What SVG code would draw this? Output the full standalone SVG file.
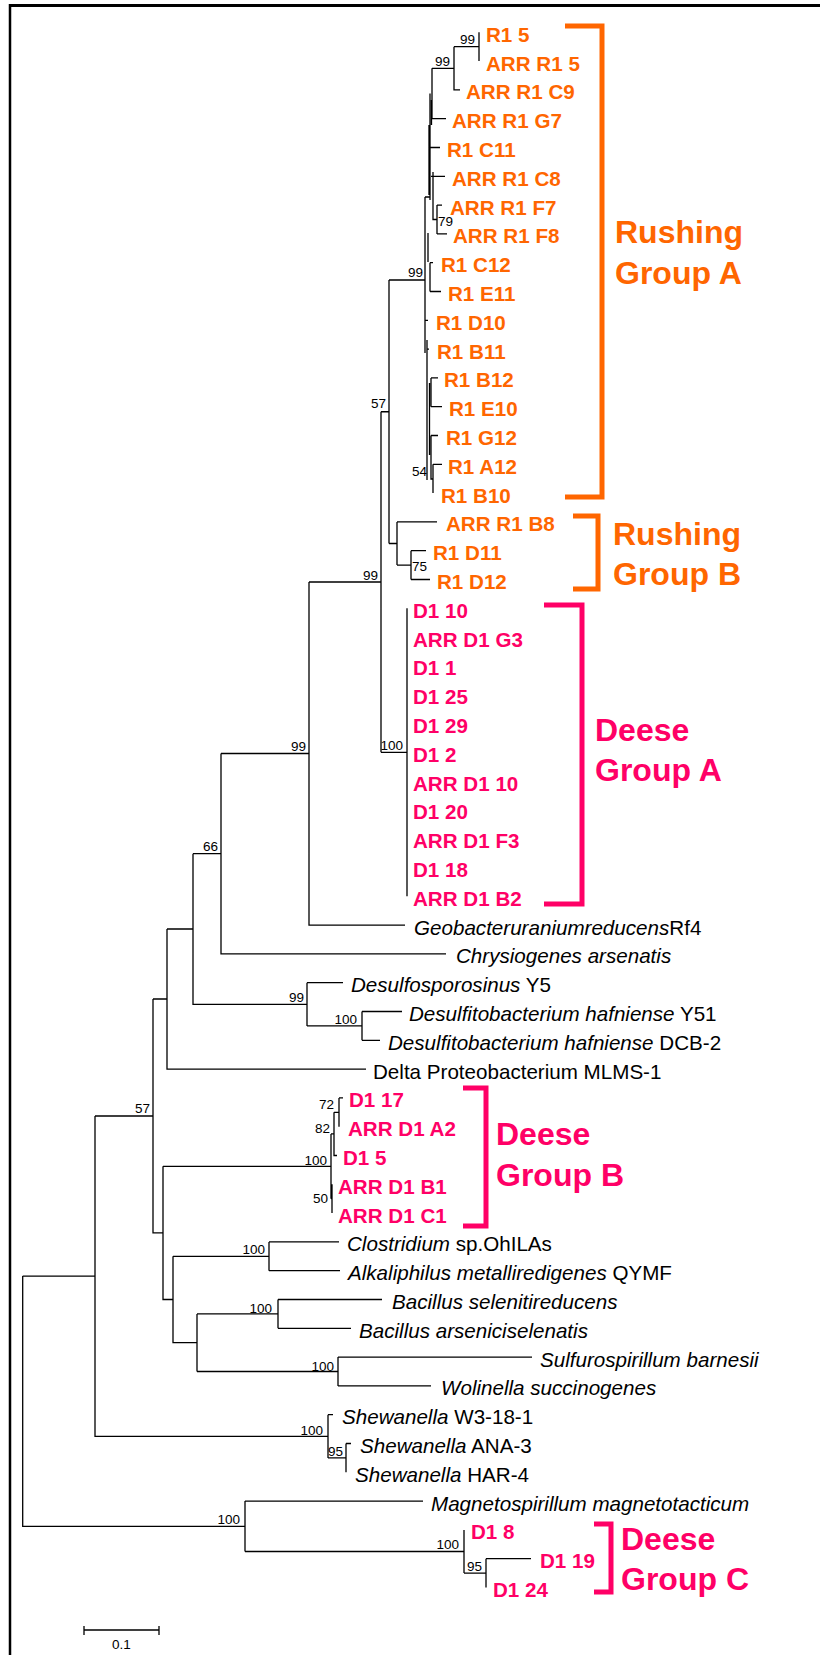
<svg xmlns="http://www.w3.org/2000/svg" width="820" height="1655" viewBox="0 0 820 1655">
<style>
text{font-family:"Liberation Sans",Arial,Helvetica,sans-serif}
.t{font-size:20.6px}
.o{fill:#FF6600;font-weight:bold}
.p{fill:#FF0066;font-weight:bold}
.k{fill:#000}
.i{font-style:italic}
.bs{font-size:13.5px;fill:#000}
.r{text-anchor:end}
.g{font-size:32px;font-weight:bold}
.e{stroke:#000;stroke-width:1.3;fill:none}
.bo{stroke:#FF6600;stroke-width:5;fill:none}
.bp{stroke:#FF0066;stroke-width:5;fill:none}
</style>
<rect width="820" height="1655" fill="#fff"/>
<g id="frame" fill="none" stroke="#000">
<path d="M10,5.5H820" stroke-width="3"/>
<path d="M10,4V1655" stroke-width="2.5"/>
</g>
<g id="connectors" class="e">
<path d="M479,32.3V61.1M454,46.7H479M454,46.7V89.9H460M432,68.3H454M432,68.3V118.7H446M430,93.5V200M431.5,100V125M429,147.5H440M429,125V195M431,176.3H445M433,172V219.5H437M437,205.1V233.9M437,205.1H442M437,233.9H447M425,197V353M425,197H430M428,233V262M430,262.7V291.5M430,262.7H433M430,291.5H441M425,320.3H428M427,340V480M427,349.1H429M431,377.9V406.7M431,377.9H438M431,406.7H442M429.5,383V455M431,435.5V479H433M431,435.5H438M433,464.3V493.1M433,464.3H442M389,280H425"/>
<path d="M389,280V543.5M381,411.75H389M389,543.5H397M397,521.9V565.1M397,521.9H437M397,565.1H411M411,550.7V579.5M411,550.7H426M411,579.5H430"/>
<path d="M381,411.75V752.3M309,582H381M381,752.3H407M407,608.3V896.3"/>
<path d="M309,582V925.1H405M221,753.5H309M221,753.5V953.9H446M193,853.7H221M193,853.7V1004.3H307M307,982.7V1025.9M307,982.7H343M307,1025.9H362M362,1011.5V1040.3M362,1011.5H402M362,1040.3H380M167,929H193M167,929V1069.1H366M153,999H167M153,999V1232.9H163M95,1116H153M95,1116V1436.3H328M22.7,1276.1H95M22.7,1276.1V1526.3H245"/>
<path d="M163,1166.3V1299.5H173M163,1166.3H331M331,1133.9V1198.7M331,1133.9H334M331,1198.7H332M332,1184.3V1213.1M334,1112.3V1155.5H337M334,1112.3H339M339,1097.9V1126.7M339,1097.9H343"/>
<path d="M173,1256.3V1342.7H197M173,1256.3H269M269,1241.9V1270.7M269,1241.9H339M269,1270.7H340M197,1313.9V1371.5M197,1313.9H278M278,1299.5V1328.3M278,1299.5H382M278,1328.3H351M197,1371.5H338M338,1357.1V1385.9M338,1357.1H532M338,1385.9H431"/>
<path d="M328,1414.7V1457.9M328,1414.7H333M328,1457.9H346M346,1443.5V1472.3M346,1443.5H351"/>
<path d="M245,1501.1V1551.5M245,1501.1H423M245,1551.5H464M464,1529.9V1573.1M464,1573.1H486M486,1558.7V1587.5M486,1558.7H531"/>
</g>
<g id="bootstrap" class="bs">
<text class="r" x="475" y="44">99</text>
<text class="r" x="450" y="66">99</text>
<text x="438" y="226">79</text>
<text class="r" x="423" y="277">99</text>
<text class="r" x="386" y="408">57</text>
<text class="r" x="427" y="476">54</text>
<text x="412" y="571">75</text>
<text class="r" x="378" y="580">99</text>
<text class="r" x="403" y="750">100</text>
<text class="r" x="306" y="751">99</text>
<text class="r" x="218" y="851">66</text>
<text class="r" x="304" y="1002">99</text>
<text class="r" x="357" y="1024">100</text>
<text class="r" x="150" y="1113">57</text>
<text class="r" x="334" y="1109">72</text>
<text class="r" x="330" y="1133">82</text>
<text class="r" x="327" y="1165">100</text>
<text class="r" x="328" y="1203">50</text>
<text class="r" x="265" y="1254">100</text>
<text class="r" x="272" y="1313">100</text>
<text class="r" x="334" y="1371">100</text>
<text class="r" x="323" y="1435">100</text>
<text x="328" y="1456">95</text>
<text class="r" x="240" y="1524">100</text>
<text class="r" x="459" y="1549">100</text>
<text x="467" y="1571">95</text>
</g>
<g id="rushing-a" class="t o">
<text x="486" y="41.8">R1 5</text>
<text x="486" y="70.6">ARR R1 5</text>
<text x="466" y="99.4">ARR R1 C9</text>
<text x="452" y="128.2">ARR R1 G7</text>
<text x="447" y="157">R1 C11</text>
<text x="452" y="185.8">ARR R1 C8</text>
<text x="450" y="214.6">ARR R1 F7</text>
<text x="453" y="243.4">ARR R1 F8</text>
<text x="441" y="272.2">R1 C12</text>
<text x="448" y="301">R1 E11</text>
<text x="436" y="329.8">R1 D10</text>
<text x="437" y="358.6">R1 B11</text>
<text x="444" y="387.4">R1 B12</text>
<text x="449" y="416.2">R1 E10</text>
<text x="446" y="445">R1 G12</text>
<text x="448" y="473.8">R1 A12</text>
<text x="441" y="502.6">R1 B10</text>
</g>
<g id="rushing-b" class="t o">
<text x="446" y="531.4">ARR R1 B8</text>
<text x="433" y="560.2">R1 D11</text>
<text x="437" y="589">R1 D12</text>
</g>
<g id="deese-a" class="t p">
<text x="413" y="617.8">D1 10</text>
<text x="413" y="646.6">ARR D1 G3</text>
<text x="413" y="675.4">D1 1</text>
<text x="413" y="704.2">D1 25</text>
<text x="413" y="733">D1 29</text>
<text x="413" y="761.8">D1 2</text>
<text x="413" y="790.6">ARR D1 10</text>
<text x="413" y="819.4">D1 20</text>
<text x="413" y="848.2">ARR D1 F3</text>
<text x="413" y="877">D1 18</text>
<text x="413" y="905.8">ARR D1 B2</text>
</g>
<g id="geobacter" class="t k"><text x="414" y="934.6"><tspan class="i">Geobacteruraniumreducens</tspan>Rf4</text></g>
<g id="chrysiogenes" class="t k"><text x="456" y="963.4" class="i">Chrysiogenes arsenatis</text></g>
<g id="desulfosporosinus" class="t k"><text x="351" y="992.2"><tspan class="i">Desulfosporosinus</tspan> Y5</text></g>
<g id="desulfito-y51" class="t k"><text x="409" y="1021"><tspan class="i">Desulfitobacterium hafniense</tspan> Y51</text></g>
<g id="desulfito-dcb2" class="t k"><text x="388" y="1049.8"><tspan class="i">Desulfitobacterium hafniense</tspan> DCB-2</text></g>
<g id="delta" class="t k"><text x="373" y="1078.6">Delta Proteobacterium MLMS-1</text></g>
<g id="deese-b" class="t p">
<text x="349" y="1107.4">D1 17</text>
<text x="348" y="1136.2">ARR D1 A2</text>
<text x="343" y="1165">D1 5</text>
<text x="338" y="1193.8">ARR D1 B1</text>
<text x="338" y="1222.6">ARR D1 C1</text>
</g>
<g id="clostridium" class="t k"><text x="347" y="1251.4"><tspan class="i">Clostridium</tspan> sp.OhILAs</text></g>
<g id="alkaliphilus" class="t k"><text x="348" y="1280.2"><tspan class="i">Alkaliphilus metalliredigenes</tspan> QYMF</text></g>
<g id="bacillus-sel" class="t k"><text x="392" y="1309" class="i">Bacillus selenitireducens</text></g>
<g id="bacillus-ars" class="t k"><text x="359" y="1337.8" class="i">Bacillus arseniciselenatis</text></g>
<g id="sulfurospirillum" class="t k"><text x="540" y="1366.6" class="i">Sulfurospirillum barnesii</text></g>
<g id="wolinella" class="t k"><text x="441" y="1395.4" class="i">Wolinella succinogenes</text></g>
<g id="shewanella-w3" class="t k"><text x="342" y="1424.2"><tspan class="i">Shewanella</tspan> W3-18-1</text></g>
<g id="shewanella-ana3" class="t k"><text x="360" y="1453"><tspan class="i">Shewanella</tspan> ANA-3</text></g>
<g id="shewanella-har4" class="t k"><text x="355" y="1481.8"><tspan class="i">Shewanella</tspan> HAR-4</text></g>
<g id="magnetospirillum" class="t k"><text x="431" y="1510.6" class="i">Magnetospirillum magnetotacticum</text></g>
<g id="deese-c" class="t p">
<text x="471" y="1539.4">D1 8</text>
<text x="540" y="1568.2">D1 19</text>
<text x="493" y="1597">D1 24</text>
</g>
<g id="group-rushing-a">
<path class="bo" d="M565,26H602V497H565"/>
<text class="g" fill="#FF6600" x="615" y="243">Rushing</text>
<text class="g" fill="#FF6600" x="615" y="284">Group A</text>
</g>
<g id="group-rushing-b">
<path class="bo" d="M573,516H598V589H573"/>
<text class="g" fill="#FF6600" x="613" y="545">Rushing</text>
<text class="g" fill="#FF6600" x="613" y="585">Group B</text>
</g>
<g id="group-deese-a">
<path class="bp" d="M544,605H582V904H544"/>
<text class="g" fill="#FF0066" x="595" y="741">Deese</text>
<text class="g" fill="#FF0066" x="595" y="781">Group A</text>
</g>
<g id="group-deese-b">
<path class="bp" d="M463,1088H486V1226H463"/>
<text class="g" fill="#FF0066" x="496" y="1145">Deese</text>
<text class="g" fill="#FF0066" x="496" y="1186">Group B</text>
</g>
<g id="group-deese-c">
<path class="bp" d="M594,1524H611V1592H594"/>
<text class="g" fill="#FF0066" x="621" y="1550">Deese</text>
<text class="g" fill="#FF0066" x="621" y="1590">Group C</text>
</g>
<g id="scale-bar">
<path class="e" d="M84,1630H159M84,1626V1635M159,1626V1635"/>
<text class="bs" x="121.5" y="1649" text-anchor="middle">0.1</text>
</g>
</svg>
